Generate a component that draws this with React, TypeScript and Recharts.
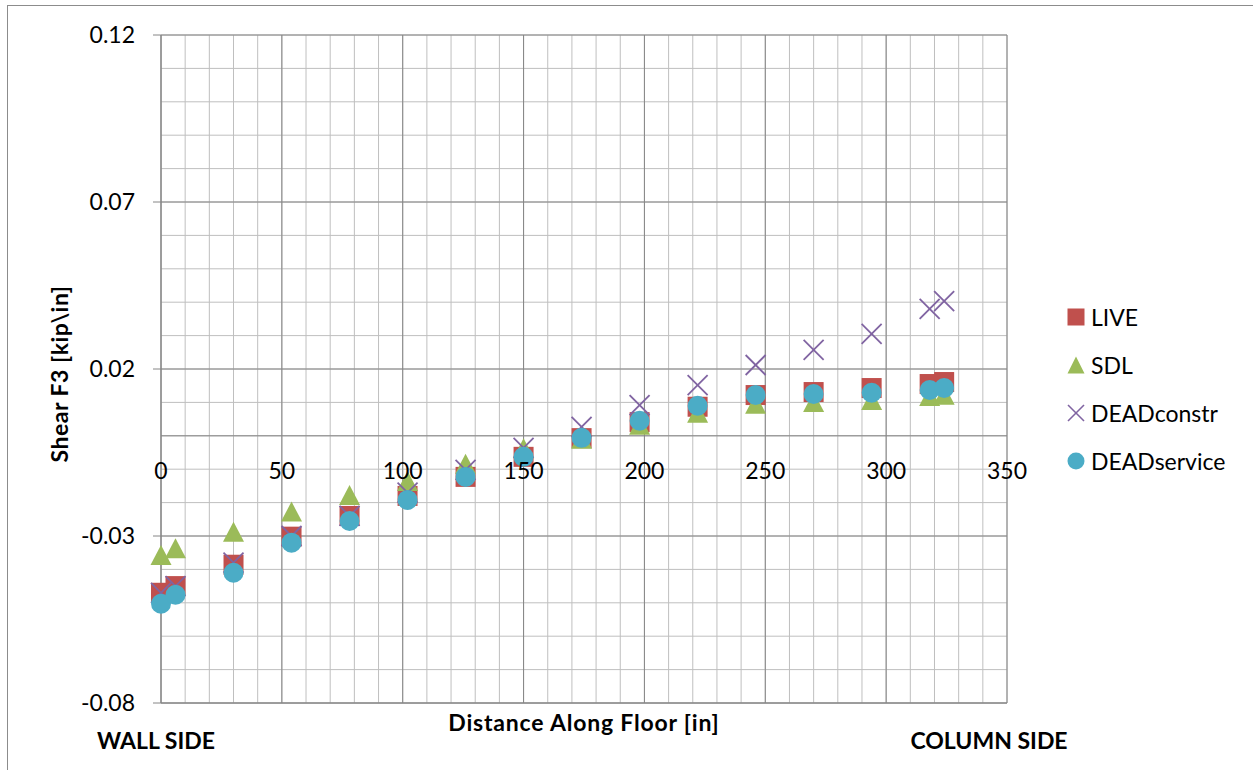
import React from 'react';
import { ScatterChart, Scatter, XAxis, YAxis, CartesianGrid, ReferenceLine, Legend } from 'recharts';

// ---- data ----
const xPositions = [0, 6, 30, 54, 78, 102, 126, 150, 174, 198, 222, 246, 270, 294, 318, 324];
const liveValues = [-0.047, -0.045, -0.0386, -0.0302, -0.024, -0.018, -0.0123, -0.0063, -0.0007, 0.0041, 0.0087, 0.0122, 0.0131, 0.0143, 0.0155, 0.0161];
const sdlValues = [-0.036, -0.034, -0.029, -0.023, -0.018, -0.0138, -0.0087, -0.004, -0.0012, 0.003, 0.0066, 0.0093, 0.0098, 0.0104, 0.0116, 0.012];
const deadConstrValues = [-0.047, -0.045, -0.038, -0.030, -0.024, -0.017, -0.0102, -0.0036, 0.0027, 0.0092, 0.0152, 0.0212, 0.0257, 0.0305, 0.038, 0.0403];
const deadServiceValues = [-0.0503, -0.0476, -0.041, -0.032, -0.0255, -0.0192, -0.0123, -0.0063, -0.0006, 0.0045, 0.009, 0.0122, 0.0125, 0.0129, 0.0137, 0.0143];

const seriesNames = ['LIVE', 'SDL', 'DEADconstr', 'DEADservice'];
const seriesColors = ['#C0504D', '#9BBB59', '#8064A2', '#4BACC6'];

const xTicks = [0, 50, 100, 150, 200, 250, 300, 350];
const yTicks = [-0.08, -0.03, 0.02, 0.07, 0.12];
const xMinorGrid = [0, 10, 20, 30, 40, 50, 60, 70, 80, 90, 100, 110, 120, 130, 140, 150, 160, 170, 180, 190, 200, 210, 220, 230, 240, 250, 260, 270, 280, 290, 300, 310, 320, 330, 340, 350];
const yMinorGrid = [-0.08, -0.07, -0.06, -0.05, -0.04, -0.03, -0.02, -0.01, 0, 0.01, 0.02, 0.03, 0.04, 0.05, 0.06, 0.07, 0.08, 0.09, 0.1, 0.11, 0.12];

const xTitle = 'Distance Along Floor [in]';
const yTitle = 'Shear F3 [kip\\in]';
const leftNote = 'WALL SIDE';
const rightNote = 'COLUMN SIDE';

// ---- layout ----
const W = 1253;
const H = 770;
const X_MIN = 0, X_MAX = 350;
const Y_MIN = -0.08, Y_MAX = 0.12;
const LEGEND_W = 190;
const MARGIN = { top: 35, right: 246 - LEGEND_W, bottom: 27, left: 0 };
const Y_AXIS_W = 161;
const X_AXIS_H = 40;
const PLOT_LEFT = MARGIN.left + Y_AXIS_W;
const PLOT_TOP = MARGIN.top;
const PLOT_W = W - 246 - PLOT_LEFT;
const PLOT_H = H - MARGIN.bottom - X_AXIS_H - PLOT_TOP;
const ZERO_Y = PLOT_TOP + ((Y_MAX - 0) / (Y_MAX - Y_MIN)) * PLOT_H;
const X_PER_PX = (X_MAX - X_MIN) / PLOT_W;

const FONT = 'Lato, "Open Sans", sans-serif';
const MINOR = '#bfbfbf';
const MAJOR = '#868686';

const build = (vals: number[]) => xPositions.map((x, i) => ({ x, y: vals[i] }));
const liveData = build(liveValues);
const sdlData = build(sdlValues);
const constrData = build(deadConstrValues);
const serviceData = build(deadServiceValues);

const SquareShape = (p: any) => (
  <rect x={p.cx - 10} y={p.cy - 10} width={20} height={20} fill={seriesColors[0]} />
);
const TriangleShape = (p: any) => (
  <polygon points={`${p.cx},${p.cy - 11} ${p.cx + 10.5},${p.cy + 9} ${p.cx - 10.5},${p.cy + 9}`} fill={seriesColors[1]} />
);
const CrossShape = (p: any) => (
  <g stroke={seriesColors[2]} strokeWidth={1.8}>
    <line x1={p.cx - 10} y1={p.cy - 10} x2={p.cx + 10} y2={p.cy + 10} />
    <line x1={p.cx - 10} y1={p.cy + 10} x2={p.cx + 10} y2={p.cy - 10} />
  </g>
);
const CircleShape = (p: any) => (
  <circle cx={p.cx} cy={p.cy} r={10} fill={seriesColors[3]} />
);

const legendIcon = (i: number) => {
  const c = seriesColors[i];
  if (i === 0) return <rect x={1.5} y={1.5} width={17} height={17} fill={c} />;
  if (i === 1) return <polygon points="10,1.5 18.5,18.5 1.5,18.5" fill={c} />;
  if (i === 2)
    return (
      <g stroke={c} strokeWidth={1.6}>
        <line x1={2} y1={2} x2={18} y2={18} />
        <line x1={2} y1={18} x2={18} y2={2} />
      </g>
    );
  return <circle cx={10} cy={10} r={8.5} fill={c} />;
};

const LegendContent = () => (
  <div style={{ fontFamily: FONT, fontSize: 23, color: '#000' }}>
    {seriesNames.map((n, i) => (
      <div key={n} style={{ height: 48, display: 'flex', alignItems: 'center' }}>
        <svg width={20} height={20} style={{ display: 'block' }}>{legendIcon(i)}</svg>
        <span style={{ marginLeft: 5, lineHeight: '23px' }}>{n}</span>
      </div>
    ))}
  </div>
);

const XTick = (p: any) => (
  <text
    x={p.x}
    y={ZERO_Y + 34}
    textAnchor="middle"
    dominantBaseline="central"
    fontFamily={FONT}
    fontSize={23}
    fill="#000"
  >
    {p.payload.value}
  </text>
);

const Y_TITLE_X = 59;
const Y_TITLE_Y = PLOT_TOP + PLOT_H / 2 + 5;

const YTitle = () => (
  <text
    x={Y_TITLE_X}
    y={Y_TITLE_Y}
    transform={`rotate(-90, ${Y_TITLE_X}, ${Y_TITLE_Y})`}
    textAnchor="middle"
    dominantBaseline="central"
    fontFamily={FONT}
    fontWeight="bold"
    fontSize={23}
    letterSpacing={0.5}
    fill="#000"
  >
    {yTitle}
  </text>
);

const XTitle = () => (
  <text
    x={PLOT_LEFT + PLOT_W / 2}
    y={PLOT_TOP + PLOT_H + 19}
    textAnchor="middle"
    dominantBaseline="central"
    fontFamily={FONT}
    fontWeight="bold"
    fontSize={23}
    letterSpacing={0.8}
    fill="#000"
  >
    {xTitle}
  </text>
);

const noteStyle: React.CSSProperties = {
  position: 'absolute',
  top: 740,
  transform: 'translate(-50%, -50%)',
  fontFamily: FONT,
  fontWeight: 'bold',
  fontSize: 23,
  color: '#000',
  whiteSpace: 'nowrap',
};

export default function App() {
  return (
    <div style={{ position: 'absolute', left: 0, top: 0, width: W, height: H, background: '#fff', overflow: 'hidden' }}>
      <div style={{ position: 'absolute', left: 7, top: 5, right: -5, bottom: -5, borderTop: '1px solid #8c8c8c', borderLeft: '1px solid #8c8c8c' }} />
      <ScatterChart width={W} height={H} margin={MARGIN} style={{ position: 'absolute', left: 0, top: 0 }}>
        <CartesianGrid stroke={MINOR} strokeWidth={1} horizontalValues={yMinorGrid} verticalValues={xMinorGrid} />
        {xTicks.map((t) => (
          <ReferenceLine key={'vx' + t} x={t} stroke={MAJOR} strokeWidth={1} />
        ))}
        {yTicks.map((t) => (
          <ReferenceLine key={'hy' + t} y={t} stroke={MAJOR} strokeWidth={1} />
        ))}
        <ReferenceLine
          y={0}
          stroke={MAJOR}
          strokeWidth={1}
          ifOverflow="visible"
          segment={[{ x: X_MIN - 8 * X_PER_PX, y: 0 }, { x: X_MAX, y: 0 }]}
        />
        <XAxis
          type="number"
          dataKey="x"
          domain={[X_MIN, X_MAX]}
          ticks={xTicks}
          interval={0}
          height={X_AXIS_H}
          axisLine={{ stroke: MAJOR }}
          tickLine={false}
          tick={<XTick />}
          label={<XTitle />}
        />
        <YAxis
          type="number"
          dataKey="y"
          domain={[Y_MIN, Y_MAX]}
          ticks={yTicks}
          interval={0}
          width={Y_AXIS_W}
          axisLine={{ stroke: MAJOR }}
          tickLine={{ stroke: MAJOR }}
          tickSize={8}
          tickMargin={18}
          tick={{ fontFamily: FONT, fontSize: 23, fill: '#000' }}
          tickFormatter={(v: number) => v.toFixed(2)}
          label={<YTitle />}
        />
        <Scatter name={seriesNames[0]} data={liveData} fill={seriesColors[0]} shape={SquareShape} isAnimationActive={false} />
        <Scatter name={seriesNames[1]} data={sdlData} fill={seriesColors[1]} shape={TriangleShape} isAnimationActive={false} />
        <Scatter name={seriesNames[2]} data={constrData} fill={seriesColors[2]} shape={CrossShape} isAnimationActive={false} />
        <Scatter name={seriesNames[3]} data={serviceData} fill={seriesColors[3]} shape={CircleShape} isAnimationActive={false} />
        <Legend
          layout="vertical"
          align="right"
          verticalAlign="middle"
          width={LEGEND_W}
          content={<LegendContent />}
          wrapperStyle={{ position: 'absolute', left: 1066, top: 293, width: LEGEND_W, height: 192 }}
        />
      </ScatterChart>
      <div style={{ ...noteStyle, left: 156 }}>{leftNote}</div>
      <div style={{ ...noteStyle, left: 989 }}>{rightNote}</div>
    </div>
  );
}
